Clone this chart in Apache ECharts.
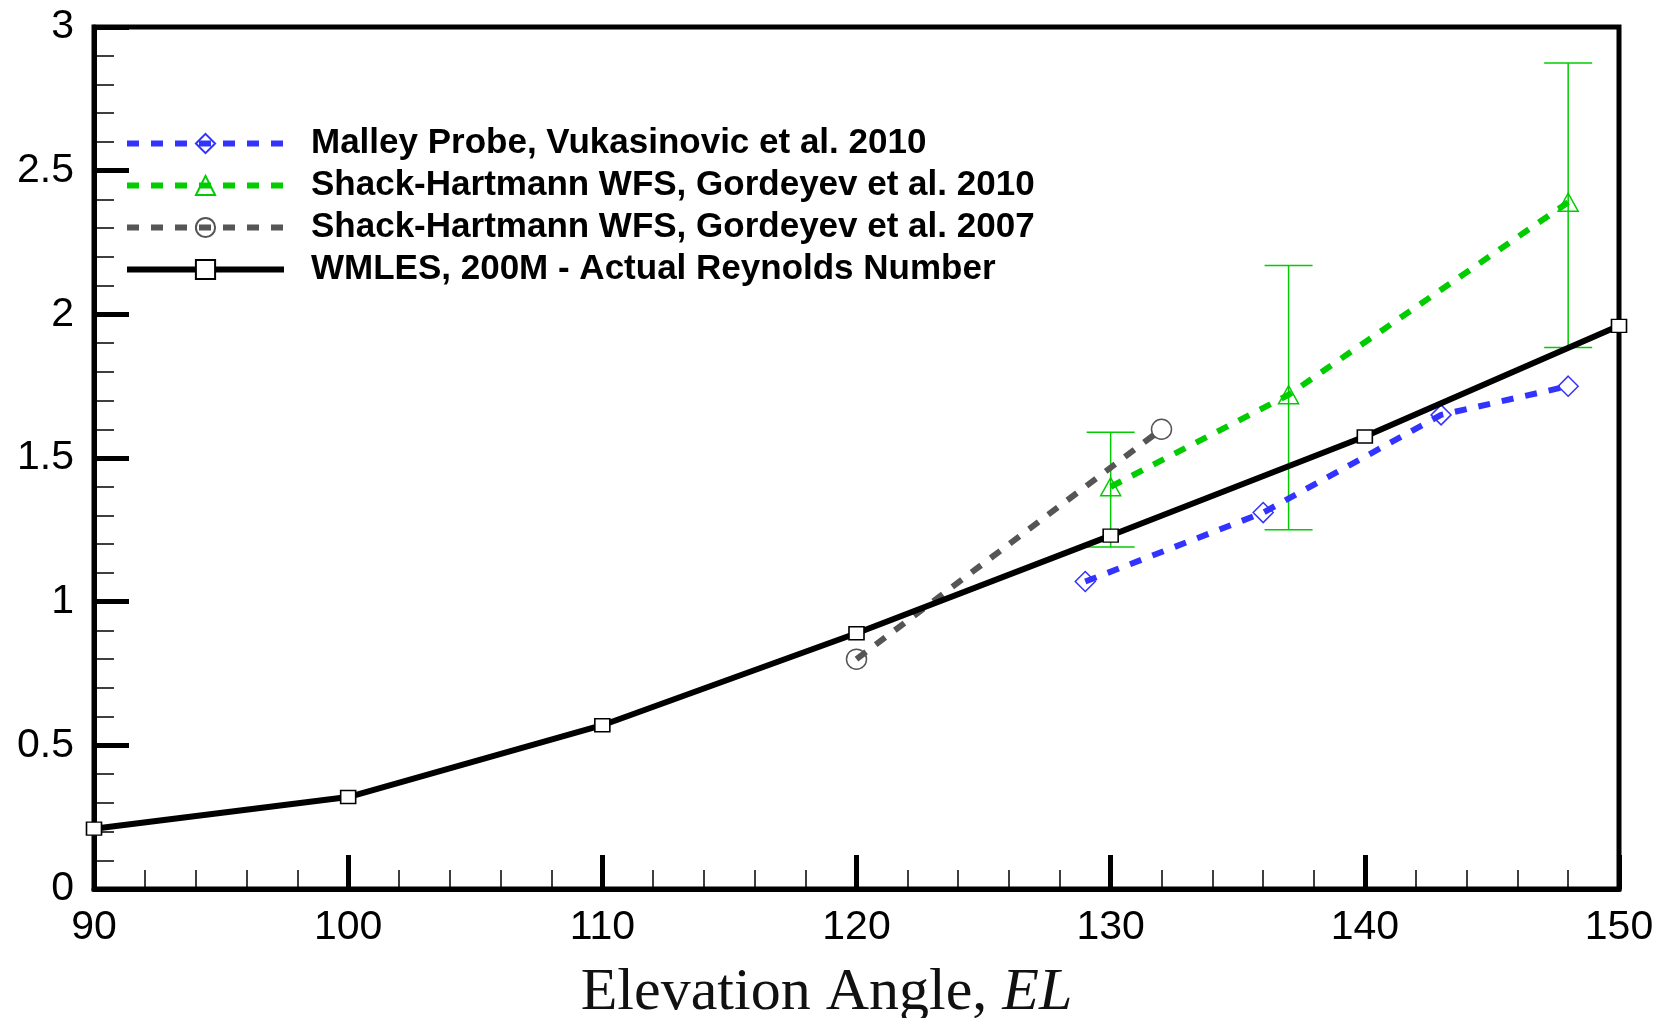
<!DOCTYPE html>
<html>
<head>
<meta charset="utf-8">
<script src="https://cdn.jsdelivr.net/npm/echarts@6/dist/echarts.min.js"></script>
<style>
html,body{margin:0;padding:0;background:#fff;}
#chart{width:1659px;height:1018px;}
</style>
</head>
<body>
<div id="chart"></div>
<script>
// ---- data ----
const xTicks = [90, 100, 110, 120, 130, 140, 150];
const yTicks = [0, 0.5, 1, 1.5, 2, 2.5, 3];

const wmlesX = [90, 100, 110, 120, 130, 140, 150];
const wmlesY = [0.21, 0.32, 0.57, 0.89, 1.23, 1.575, 1.96];

const malleyX = [129, 136, 143, 148];
const malleyY = [1.07, 1.31, 1.65, 1.75];

const sh2010X = [130, 137, 148];
const sh2010Y = [1.40, 1.72, 2.39];
const sh2010Low = [1.19, 1.25, 1.885];
const sh2010High = [1.59, 2.17, 2.875];

const sh2007X = [120, 132];
const sh2007Y = [0.80, 1.60];

const names = [
  'Malley Probe, Vukasinovic et al. 2010',
  'Shack-Hartmann WFS, Gordeyev et al. 2010',
  'Shack-Hartmann WFS, Gordeyev et al. 2007',
  'WMLES, 200M - Actual Reynolds Number'
];

// ---- styles ----
const BLUE = '#3333ff', GREEN = '#00cc00', GRAY = '#555555', BLACK = '#000000';
const zip = (a, b) => a.map((v, i) => [v, b[i]]);

const chart = echarts.init(document.getElementById('chart'), null, {renderer: 'canvas'});

const option = {
  animation: false,
  backgroundColor: '#ffffff',
  grid: {
    left: 94, right: 40, top: 27, bottom: 129,
    outerBoundsMode: 'none', containLabel: false,
    show: true, borderColor: BLACK, borderWidth: 5, backgroundColor: 'transparent'
  },
  legend: {
    left: 119, top: 121, orient: 'vertical',
    itemWidth: 157, itemHeight: 24, itemGap: 7,
    data: names,
    lineStyle: {width: 6},
    textStyle: {
      fontFamily: 'Liberation Sans, Arial, sans-serif', fontWeight: 'bold',
      fontSize: 35, color: BLACK, padding: [0, 0, 0, 22]
    }
  },
  xAxis: {
    type: 'value', min: 90, max: 150, interval: 10,
    name: '{a|Elevation Angle, }{b|EL}',
    nameLocation: 'middle', nameGap: 74,
    nameTextStyle: {
      padding: [0, 60, 0, 0],
      rich: {
        a: {fontFamily: 'Liberation Serif, Times New Roman, serif', fontSize: 60, color: '#111'},
        b: {fontFamily: 'Liberation Serif, Times New Roman, serif', fontSize: 60, fontStyle: 'italic', color: '#111'}
      }
    },
    axisLine: {show: true, onZero: false, lineStyle: {color: BLACK, width: 5}},
    axisTick: {show: true, inside: true, length: 34, lineStyle: {color: BLACK, width: 5}},
    minorTick: {show: true, splitNumber: 5, length: 19, lineStyle: {color: BLACK, width: 1.5}},
    splitLine: {show: false},
    axisLabel: {
      margin: 18, fontFamily: 'Liberation Sans, Arial, sans-serif', fontSize: 41, color: BLACK,
      formatter: v => (xTicks.indexOf(v) >= 0 ? String(v) : '')
    }
  },
  yAxis: {
    type: 'value', min: 0, max: 3, interval: 0.5,
    axisLine: {show: true, onZero: false, lineStyle: {color: BLACK, width: 5}},
    axisTick: {show: true, inside: true, length: 35, lineStyle: {color: BLACK, width: 5}},
    minorTick: {show: true, splitNumber: 5, length: 20, lineStyle: {color: BLACK, width: 1.5}},
    splitLine: {show: false},
    axisLabel: {
      margin: 20, fontFamily: 'Liberation Sans, Arial, sans-serif', fontSize: 41, color: BLACK,
      formatter: v => (yTicks.indexOf(v) >= 0 ? String(v) : '')
    }
  },
  series: [
    {
      name: names[0], type: 'line', data: zip(malleyX, malleyY),
      symbol: 'diamond', symbolSize: 20, showSymbol: true, z: 3,
      lineStyle: {color: BLUE, width: 6, type: [12, 12], cap: 'butt'},
      itemStyle: {color: 'rgba(255,255,255,0)', borderColor: BLUE, borderWidth: 1.5}
    },
    {
      name: names[1], type: 'line', data: zip(sh2010X, sh2010Y),
      symbol: 'triangle', symbolSize: [20, 18], showSymbol: true, z: 3,
      lineStyle: {color: GREEN, width: 6, type: [12, 12], cap: 'butt'},
      itemStyle: {color: 'rgba(255,255,255,0)', borderColor: GREEN, borderWidth: 1.5}
    },
    {
      name: names[2], type: 'line', data: zip(sh2007X, sh2007Y),
      symbol: 'circle', symbolSize: 20, showSymbol: true, z: 3,
      lineStyle: {color: GRAY, width: 6, type: [12, 12], cap: 'butt'},
      itemStyle: {color: 'rgba(255,255,255,0)', borderColor: GRAY, borderWidth: 1.5}
    },
    {
      name: names[3], type: 'line', data: zip(wmlesX, wmlesY),
      symbol: 'rect', symbolSize: [15, 13], showSymbol: true, z: 4,
      lineStyle: {color: BLACK, width: 6},
      itemStyle: {color: '#ffffff', borderColor: BLACK, borderWidth: 1.5}
    },
    {
      name: 'errorbars', type: 'custom', z: 2,
      data: sh2010X.map((x, i) => [x, sh2010Low[i], sh2010High[i]]),
      encode: {x: 0, y: [1, 2]},
      renderItem: function (params, api) {
        const x = api.value(0);
        const pLo = api.coord([x, api.value(1)]);
        const pHi = api.coord([x, api.value(2)]);
        const hw = 24;
        const st = {stroke: GREEN, lineWidth: 1.5, fill: null};
        return {
          type: 'group',
          children: [
            {type: 'line', shape: {x1: pLo[0], y1: pLo[1], x2: pHi[0], y2: pHi[1]}, style: st},
            {type: 'line', shape: {x1: pLo[0] - hw, y1: pLo[1], x2: pLo[0] + hw, y2: pLo[1]}, style: st},
            {type: 'line', shape: {x1: pHi[0] - hw, y1: pHi[1], x2: pHi[0] + hw, y2: pHi[1]}, style: st}
          ]
        };
      }
    }
  ]
};
chart.setOption(option);
</script>
</body>
</html>
